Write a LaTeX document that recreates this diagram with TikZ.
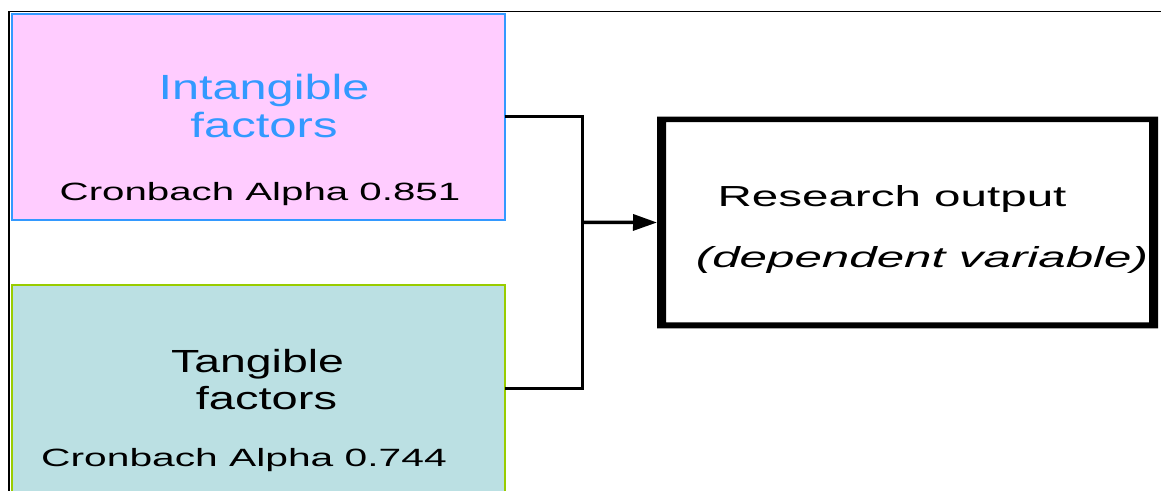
\documentclass[tikz,border=0pt]{standalone}
\usepackage{fontspec}
\setmainfont{Liberation Sans}
\usepackage{graphicx}
\usetikzlibrary{arrows.meta}

\definecolor{pinkfill}{HTML}{FFCCFF}
\definecolor{bluetext}{HTML}{3399FF}
\definecolor{tealfill}{HTML}{BBE0E3}
\definecolor{limeline}{HTML}{99CC00}

% text at a given size, widened horizontally by a given factor
\newcommand{\widetext}[3]{\fontsize{#1}{#1}\selectfont\scalebox{#2}[1]{#3}}

\begin{document}
\begin{tikzpicture}[x=1pt,y=-1pt,
  factorbox/.style={rectangle, inner sep=0pt, outer sep=0pt, line width=2pt, minimum width=492.2pt},
  txt/.style={anchor=base, inner sep=0pt, outer sep=0pt},
  link/.style={line width=3.4pt, line join=miter},
]
\useasboundingbox (0,0) rectangle (1161,490);
\clip (0,0) rectangle (1161,490);

% outer frame (left and top edges)
\draw[line width=1.6pt] (9.2,520) -- (9.2,11.3) -- (1200,11.3);

% factor boxes
\node[factorbox, draw=bluetext, fill=pinkfill, minimum height=206.5pt] (intang) at (258.4,116.75) {};
\node[factorbox, draw=limeline, fill=tealfill, minimum height=206.8pt] (tang) at (258.4,388.2) {};

% outcome box with heavy frame
\node[rectangle, inner sep=0pt, outer sep=0pt, minimum width=501pt, minimum height=211.6pt] (research) at (907.5,222.5) {};
\fill[even odd rule] (research.north west) rectangle (research.south east)
  ([xshift=9pt,yshift=-5.3pt]research.north west) rectangle ([xshift=-9pt,yshift=6pt]research.south east);

% connectors
\coordinate (junction) at (582.7,222.3);
\draw[link] (intang.east) -| (junction) |- (tang.east);
\draw[link, -{Triangle[length=24pt,width=16pt]}] (junction) -- (research.west);

% labels
\node[txt, text=bluetext] (intang-t1) at (264,99.5) {\widetext{35}{1.39}{Intangible}};
\node[txt, text=bluetext] (intang-t2) at (264,137) {\widetext{35}{1.40}{factors}};
\node[txt] (intang-alpha) at (260,200) {\widetext{25}{1.61}{Cronbach Alpha 0.851}};

\node[txt] (tang-t1) at (257.5,372.3) {\widetext{32}{1.45}{Tangible}};
\node[txt] (tang-t2) at (266.5,409) {\widetext{32}{1.47}{factors}};
\node[txt] (tang-alpha) at (244,466) {\widetext{25}{1.63}{Cronbach Alpha 0.744}};

\node[txt] (res-t1) at (892,206) {\widetext{29}{1.64}{Research output}};
\node[txt] (res-t2) at (922,267) {\widetext{29}{1.70}{\itshape (dependent variable)}};
\end{tikzpicture}
\end{document}
